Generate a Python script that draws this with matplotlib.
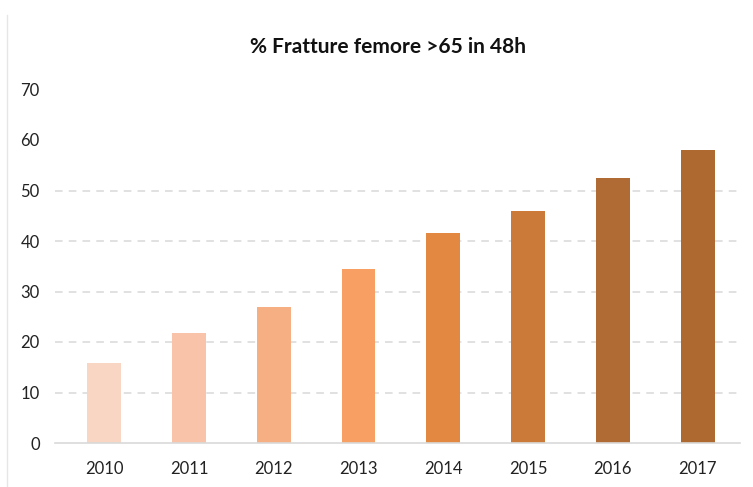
import matplotlib
matplotlib.use("Agg")
import matplotlib.pyplot as plt
from matplotlib.lines import Line2D

years = ["2010", "2011", "2012", "2013", "2014", "2015", "2016", "2017"]
values = [15.9, 21.8, 26.9, 34.4, 41.6, 45.9, 52.5, 58.0]
colors = ["#F9D5C3", "#F8C3A8", "#F6AE83", "#F89F63", "#E28841", "#CB7A3A", "#B06A33", "#AD6930"]
grid_levels = [10, 20, 30, 40, 50]
yticks = [0, 10, 20, 30, 40, 50, 60, 70]
title = "% Fratture femore >65 in 48h"

plt.rcParams['font.family'] = ['Lato', 'DejaVu Sans']

W, H = 753, 487
fig = plt.figure(figsize=(W/100, H/100), dpi=100)
ax = fig.add_axes([55/W, 1-443/H, (740-55)/W, (443-89.5)/H])

x = list(range(len(years)))
for lvl in grid_levels:
    ax.axhline(lvl, color="#D9D9D9", lw=1.1, ls=(0, (5, 4)), zorder=0)
ax.bar(x, values, width=0.4, color=colors, zorder=2)

ax.set_xlim(-0.58, 7.5)
ax.set_ylim(0, 70)
ax.set_yticks(yticks)
ax.set_xticks(x)
ax.set_xticklabels(years)
for s in ["top", "right", "left"]:
    ax.spines[s].set_visible(False)
ax.spines["bottom"].set_color("#D9D9D9")
ax.spines["bottom"].set_linewidth(1.2)
ax.tick_params(axis="both", length=0, labelsize=12, labelcolor="#222222")
ax.tick_params(axis="x", pad=13)
ax.tick_params(axis="y", pad=11)

fig.text(388/W, 1-47/H, title, ha="center", va="center", fontsize=15, fontweight="bold", color="#111111")
fig.add_artist(Line2D([7/W, 7/W], [0, 1-15/H], color="#E6E6E6", lw=1, transform=fig.transFigure))

fig.savefig("out.png", dpi=100)
